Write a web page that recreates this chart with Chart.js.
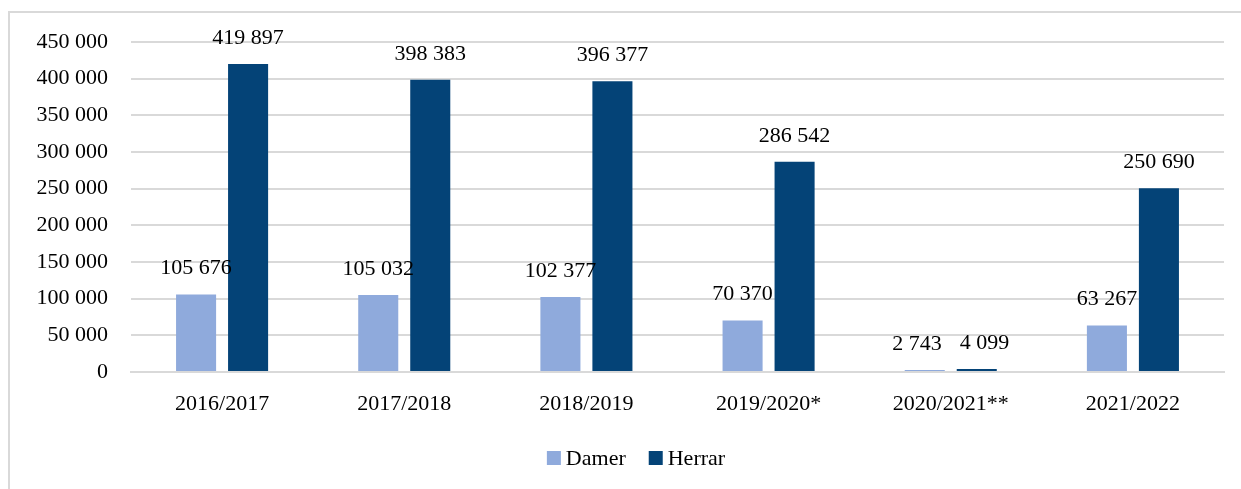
<!DOCTYPE html>
<html>
<head>
<meta charset="utf-8">
<script src="https://cdn.jsdelivr.net/npm/chart.js@4.4.0/dist/chart.umd.min.js"></script>
<style>
  html, body { margin: 0; padding: 0; background: #ffffff; overflow: hidden; }
  #wrap { position: relative; width: 1241px; height: 489px; }
  #frame { position: absolute; left: 8px; top: 11px; width: 1400px; height: 700px;
           border-left: 2px solid #d9d9d9; border-top: 2px solid #d9d9d9; box-sizing: border-box; }
  canvas { position: absolute; left: 0; top: 0; }
</style>
</head>
<body>
<div id="wrap">
  <div id="frame"></div>
  <canvas id="c" width="1241" height="489"></canvas>
</div>
<script>
const categories = ["2016/2017", "2017/2018", "2018/2019", "2019/2020*", "2020/2021**", "2021/2022"];
const damer = [105676, 105032, 102377, 70370, 2743, 63267];
const herrar = [419897, 398383, 396377, 286542, 4099, 250690];
const seriesNames = ["Damer", "Herrar"];
const yTicks = [0, 50000, 100000, 150000, 200000, 250000, 300000, 350000, 400000, 450000];

const FONT = '"Liberation Serif", "DejaVu Serif", serif';
const FS = 22;
const fmt = v => String(v).replace(/\B(?=(\d{3})+(?!\d))/g, " ");

const valueLabels = {
  id: 'valueLabels',
  afterDatasetsDraw(chart) {
    const ctx = chart.ctx;
    ctx.save();
    ctx.font = FS + 'px ' + FONT;
    ctx.fillStyle = '#000000';
    ctx.textAlign = 'center';
    ctx.textBaseline = 'middle';
    const n = chart.data.labels.length;
    const metaA = chart.getDatasetMeta(0), metaB = chart.getDatasetMeta(1);
    const dsA = chart.data.datasets[0], dsB = chart.data.datasets[1];
    for (let i = 0; i < n; i++) {
      const a = metaA.data[i], b = metaB.data[i];
      const ta = fmt(dsA.data[i]), tb = fmt(dsB.data[i]);
      let xa = a.x, xb = b.x;
      const ya = a.y - 26, yb = b.y - 26;
      const wa = ctx.measureText(ta).width, wb = ctx.measureText(tb).width;
      // if labels sit at about the same height and would crowd, push them apart
      if (Math.abs(ya - yb) < FS) {
        const need = (wa + wb) / 2 + 18;
        const have = xb - xa;
        if (have < need) { const d = (need - have) / 2; xa -= d; xb += d; }
      }
      ctx.fillText(ta, xa, ya);
      ctx.fillText(tb, xb, yb);
    }
    ctx.restore();
  }
};

const customLegend = {
  id: 'customLegend',
  afterDraw(chart) {
    const ctx = chart.ctx;
    ctx.save();
    ctx.font = FS + 'px ' + FONT;
    ctx.textBaseline = 'middle';
    ctx.textAlign = 'left';
    const box = 14, gapText = 5, gapItem = 23;
    const items = chart.data.datasets.map(ds => ({ label: ds.label, color: ds.backgroundColor, w: ctx.measureText(ds.label).width }));
    let total = 0;
    items.forEach((it, k) => { total += box + gapText + it.w + (k < items.length - 1 ? gapItem : 0); });
    let x = 636 - total / 2;
    const y = 458;
    items.forEach(it => {
      ctx.fillStyle = it.color;
      ctx.fillRect(x, y - box / 2, box, box);
      x += box + gapText;
      ctx.fillStyle = '#000000';
      ctx.fillText(it.label, x, y + 1);
      x += it.w + gapItem;
    });
    ctx.restore();
  }
};

new Chart(document.getElementById('c'), {
  type: 'bar',
  data: {
    labels: categories,
    datasets: [
      { label: seriesNames[0], data: damer, backgroundColor: '#8faadc', categoryPercentage: 0.571, barPercentage: 0.77 },
      { label: seriesNames[1], data: herrar, backgroundColor: '#044377', categoryPercentage: 0.571, barPercentage: 0.77 }
    ]
  },
  options: {
    responsive: false,
    animation: false,
    layout: { padding: { left: 0, right: 17, top: 42, bottom: 0 } },
    plugins: { legend: { display: false }, tooltip: { enabled: false } },
    scales: {
      x: {
        grid: { display: false, drawTicks: false },
        border: { display: true, color: '#d9d9d9', width: 2 },
        ticks: { font: { family: FONT, size: FS }, color: '#000000', padding: 19, maxRotation: 0 },
        afterFit(s) { s.height = 117; }
      },
      y: {
        min: 0, max: 450000,
        afterBuildTicks(s) { s.ticks = yTicks.map(v => ({ value: v })); },
        grid: { color: '#d9d9d9', lineWidth: 2, drawTicks: false },
        border: { display: false },
        ticks: { font: { family: FONT, size: FS }, color: '#000000', padding: 23, callback: v => fmt(v) },
        afterFit(s) { s.width = 131; }
      }
    }
  },
  plugins: [valueLabels, customLegend]
});
</script>
</body>
</html>
